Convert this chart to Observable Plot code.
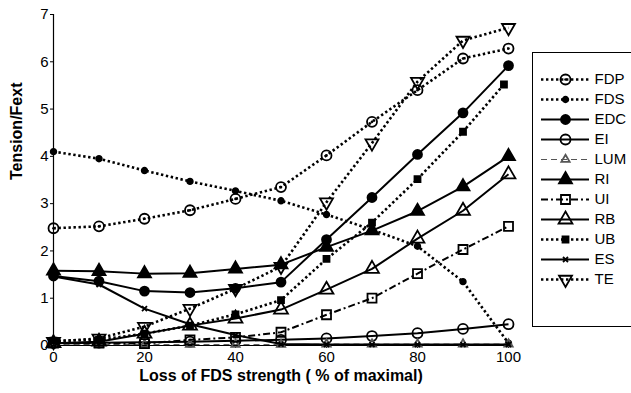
<!DOCTYPE html>
<html><head><meta charset="utf-8">
<script src="https://cdn.jsdelivr.net/npm/d3@7"></script>
<script src="https://cdn.jsdelivr.net/npm/@observablehq/plot@0.6"></script>
<style>
body{margin:0;background:#fff;}
#wrap{position:relative;width:631px;height:393px;overflow:hidden;font-family:"Liberation Sans",Arial,sans-serif;background:#fff;}
#legend{position:absolute;left:532px;top:52px;width:110px;height:275px;border:1px solid #000;box-sizing:border-box;background:#fff;}
#legend svg, #chart svg{display:block;}
</style></head><body>
<div id="wrap"><div id="chart"></div><div id="legend"></div></div>
<script>
// ---- data ----
const loss = [0, 10, 20, 30, 40, 50, 60, 70, 80, 90, 100];
const lossUB = [0, 10, 20, 30, 40, 50, 60, 70, 80, 90, 99];
const FDP = [2.48, 2.52, 2.68, 2.86, 3.10, 3.35, 4.02, 4.73, 5.40, 6.07, 6.28];
const FDS = [4.10, 3.95, 3.70, 3.47, 3.27, 3.06, 2.77, 2.45, 2.10, 1.35, 0.05];
const EDC = [1.47, 1.36, 1.15, 1.12, 1.21, 1.34, 2.24, 3.13, 4.04, 4.92, 5.92];
const EI  = [0.05, 0.06, 0.07, 0.08, 0.10, 0.12, 0.15, 0.20, 0.26, 0.35, 0.45];
const LUM = [0.02, 0.02, 0.02, 0.02, 0.02, 0.02, 0.03, 0.03, 0.03, 0.03, 0.03];
const RI  = [1.58, 1.57, 1.52, 1.53, 1.62, 1.71, 2.08, 2.43, 2.84, 3.36, 4.00];
const UI  = [0.05, 0.05, 0.04, 0.12, 0.17, 0.28, 0.65, 1.00, 1.52, 2.03, 2.52];
const RB  = [0.05, 0.08, 0.25, 0.42, 0.57, 0.76, 1.18, 1.62, 2.26, 2.85, 3.62];
const UB  = [0.10, 0.12, 0.25, 0.42, 0.66, 0.96, 1.83, 2.60, 3.52, 4.52, 5.52];
const ES  = [1.46, 1.29, 0.78, 0.45, 0.22, 0.03, 0.02, 0.02, 0.02, 0.02, 0.02];
const TE  = [0.08, 0.15, 0.40, 0.78, 1.20, 1.67, 3.03, 4.28, 5.58, 6.45, 6.72];
const names = ["FDP","FDS","EDC","EI","LUM","RI","UI","RB","UB","ES","TE"];
const xTicks = [0, 20, 40, 60, 80, 100];
const yTicks = [0, 1, 2, 3, 4, 5, 6, 7];
const xLabel = "Loss of FDS strength ( % of maximal)";
const yLabel = "Tension/Fext";

// ---- symbols ----
function sym(f){ return {draw(c, size){ f(c, Math.sqrt(size/Math.PI)); }}; }
const circ = sym((c,r)=>{ c.moveTo(r,0); c.arc(0,0,r,0,2*Math.PI); });
const triUp = sym((c,r)=>{ c.moveTo(0,-r); c.lineTo(r*0.866,r*0.5); c.lineTo(-r*0.866,r*0.5); c.closePath(); });
const triDown = sym((c,r)=>{ c.moveTo(0,r); c.lineTo(r*0.866,-r*0.5); c.lineTo(-r*0.866,-r*0.5); c.closePath(); });
const sq = sym((c,r)=>{ c.rect(-r,-r,2*r,2*r); });
const cross = sym((c,r)=>{ c.moveTo(-r,-r); c.lineTo(r,r); c.moveTo(r,-r); c.lineTo(-r,r); });

const DOT = "2.4,2.6", DASHDOT = "7,3,2,3", DASH = "6,4";
const style = {
  FDP: {x: loss, y: FDP, dash: DOT, sw: 2.6, s: circ, r: 5, fill: "none", center: true},
  FDS: {x: loss, y: FDS, dash: DOT, sw: 2.6, s: circ, r: 2.8, fill: "black"},
  EDC: {x: loss, y: EDC, dash: null, sw: 2, s: circ, r: 4.5, fill: "black"},
  EI:  {x: loss, y: EI,  dash: null, sw: 2, s: circ, r: 5, fill: "none"},
  LUM: {x: loss, y: LUM, dash: DASH, sw: 1, s: triUp, r: 4.8, fill: "none", color: "#555"},
  RI:  {x: loss, y: RI,  dash: null, sw: 2, s: triUp, r: 7.5, fill: "black"},
  UI:  {x: loss, y: UI,  dash: DASHDOT, sw: 2, s: sq, r: 4.5, fill: "none"},
  RB:  {x: loss, y: RB,  dash: null, sw: 2, s: triUp, r: 8, fill: "none"},
  UB:  {x: lossUB, y: UB, dash: DOT, sw: 2.6, s: sq, r: 3, fill: "black"},
  ES:  {x: loss, y: ES,  dash: null, sw: 2, s: cross, r: 2.5, fill: "none"},
  TE:  {x: loss, y: TE,  dash: DOT, sw: 2.6, s: triDown, r: 7.5, fill: "none"}
};

const font = "'Liberation Sans', Arial, sans-serif";
const marks = [
  Plot.ruleX([0], {stroke: "black", strokeWidth: 1.2}),
  Plot.ruleY([0], {stroke: "black", strokeWidth: 1.2}),
  Plot.axisX({ticks: xTicks, tickSize: 3, tickPadding: 3, fontSize: 15, label: null, tickFormat: d3.format("d")}),
  Plot.axisY({ticks: yTicks, tickSize: 3, tickPadding: 2, fontSize: 15, label: null, tickFormat: d3.format("d")}),
  Plot.text([yLabel], {frameAnchor: "left", dx: -37, rotate: -90, text: d => d, fontSize: 16, fontWeight: "bold"}),
  Plot.text([xLabel], {frameAnchor: "bottom", dy: 35, text: d => d, fontSize: 16, fontWeight: "bold"})
];
for (const n of names) {
  const st = style[n];
  const data = st.x.map((x, i) => ({x, y: st.y[i]}));
  const col = st.color || "black";
  marks.push(Plot.line(data, {x: "x", y: "y", stroke: col, strokeWidth: st.sw, strokeDasharray: st.dash, strokeLinecap: "butt"}));
  marks.push(Plot.dot(data, {x: "x", y: "y", symbol: st.s, r: st.r, fill: st.fill === "black" ? col : "none", stroke: col, strokeWidth: 1.8}));
  if (st.center) marks.push(Plot.dot(data, {x: "x", y: "y", r: 1.3, fill: "black", stroke: "none"}));
}

const chart = Plot.plot({
  width: 631, height: 393,
  marginLeft: 53, marginRight: 123, marginTop: 14, marginBottom: 48,
  style: {fontFamily: font, fontSize: "15px", color: "black", background: "white"},
  x: {domain: [0, 100]},
  y: {domain: [0, 7]},
  marks
});
document.getElementById("chart").append(chart);

// ---- legend ----
const lmarks = [];
for (const n of names) {
  const st = style[n];
  const col = st.color || "black";
  lmarks.push(Plot.ruleY([n], {y: d => d, x1: 8, x2: 56, stroke: col, strokeWidth: st.sw, strokeDasharray: st.dash}));
  lmarks.push(Plot.dot([n], {x: 32, y: d => d, symbol: st.s, r: st.r, fill: st.fill === "black" ? col : "none", stroke: col, strokeWidth: 1.8}));
  if (st.center) lmarks.push(Plot.dot([n], {x: 32, y: d => d, r: 1.3, fill: "black", stroke: "none"}));
}
lmarks.push(Plot.text(names, {x: 61, y: d => d, text: d => d, textAnchor: "start", fontSize: 15}));
const legend = Plot.plot({
  width: 108, height: 273,
  margin: 0,
  style: {fontFamily: font, fontSize: "15px", color: "black", background: "white"},
  x: {domain: [0, 108], range: [0, 108], axis: null},
  y: {type: "point", domain: names, range: [12, 240], axis: null},
  marks: lmarks
});
document.getElementById("legend").append(legend);
</script>
</body></html>
